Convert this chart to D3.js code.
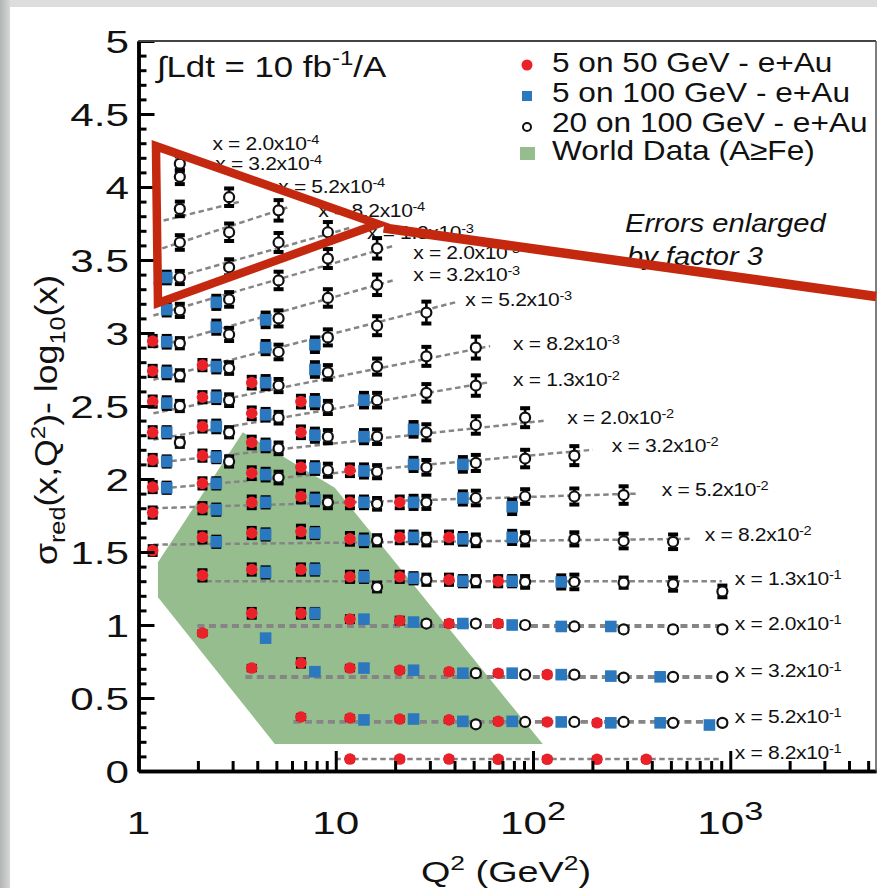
<!DOCTYPE html>
<html>
<head>
<meta charset="utf-8">
<script src="https://cdn.jsdelivr.net/npm/d3@7"></script>
<style>
  html, body { margin: 0; padding: 0; background: #fff; }
  svg { display: block; }
  text { font-family: "Liberation Sans", Arial, Helvetica, sans-serif; fill: #111; }
</style>
</head>
<body>
<svg id="chart" width="877" height="888"></svg>
<script>
// ---- x bins (one row each), labelled x = m x 10^e ----
const rowMant = ["2.0","3.2","5.2","8.2","1.3","2.0","3.2","5.2","8.2","1.3","2.0","3.2","5.2","8.2","1.3","2.0","3.2","5.2","8.2"];
const rowExp  = [-4,-4,-4,-4,-3,-3,-3,-3,-3,-2,-2,-2,-2,-2,-1,-1,-1,-1,-1];

// ---- Q^2 columns (GeV^2) of each data set ----
const redQ2  = [1.18, 2.11, 3.75, 6.66, 11.8, 21.1, 37.5, 66.6, 118, 211, 375, 666];
const blueQ2 = [1.39, 2.48, 4.41, 7.84, 13.9, 24.8, 44.1, 78.4, 139, 248, 441, 784];
const openQ2 = [1.62, 2.88, 5.13, 9.12, 16.2, 28.8, 51.3, 91.2, 162, 288, 513, 912];

// ---- sigma_red - log10(x): [value, error] per Q^2 column, null = no point ----
const _ = null;
const redRows = [
  [], [], [], [], [], [],
  [[2.945,.035]],
  [[2.74,.035],[2.78,.035]],
  [[2.53,.035],[2.56,.035],[2.66,.04]],
  [[2.32,.035],[2.36,.035],[2.45,.04],[2.53,.04]],
  [[2.13,.035],[2.16,.035],[2.25,.04],[2.32,.04]],
  [[1.945,.035],[1.97,.035],[2.04,.04],[2.08,.04],[2.06,.04]],
  [[1.77,.035],[1.80,.035],[1.84,.04],[1.88,.04],[1.84,.04],[1.84,.04]],
  [[1.51,.03],[1.60,.035],[1.63,.035],[1.64,.04],[1.59,.04],[1.60,.04],[1.60,.04]],
  [_,[1.34,.035],[1.38,.035],[1.38,.035],[1.33,.035],[1.33,.035],[1.31,.035],[1.30,.035]],
  [_,[0.945,.012],[1.08,.03],[1.08,.03],[1.04,.02],[1.03,.02],[1.01,.015],[1.01,.015]],
  [_,_,[0.705,.015],[0.74,.025],[0.705,.015],[0.69,.012],[0.68,.012],[0.67,.012],[0.66,.012]],
  [_,_,_,[0.37,.012],[0.363,.012],[0.356,.012],[0.35,.012],[0.34,.012],[0.336,.012],[0.33,.012]],
  [_,_,_,_,[0.082,.01],[0.082,.01],[0.082,.01],[0.08,.01],[0.08,.01],[0.08,.01],[0.08,.01]]
];
const blueRows = [
  [], [], [], [],
  [[3.38,.04]],
  [[3.16,.04],[3.21,.045]],
  [[2.94,.04],[3.04,.045],[3.09,.05]],
  [[2.73,.04],[2.77,.04],[2.90,.045],[2.92,.05]],
  [[2.52,.04],[2.56,.04],[2.66,.045],[2.75,.05]],
  [[2.32,.035],[2.36,.04],[2.44,.04],[2.53,.045],[2.54,.05]],
  [[2.12,.035],[2.15,.035],[2.23,.04],[2.30,.045],[2.29,.045],[2.34,.05]],
  [[1.94,.035],[1.97,.035],[2.03,.04],[2.075,.04],[2.055,.045],[2.10,.045],[2.10,.05]],
  [_,[1.79,.035],[1.84,.035],[1.86,.04],[1.84,.04],[1.84,.045],[1.87,.045],[1.81,.05]],
  [_,[1.57,.035],[1.62,.035],[1.63,.035],[1.58,.04],[1.60,.04],[1.59,.04],[1.60,.045]],
  [_,_,[1.36,.035],[1.38,.035],[1.33,.035],[1.32,.035],[1.30,.035],[1.30,.035],[1.295,.045]],
  [_,_,[0.91,.012],[1.08,.03],[1.04,.02],[1.02,.015],[1.01,.015],[1.00,.015],[0.99,.012],[0.99,.012]],
  [_,_,_,[0.68,.015],[0.705,.015],[0.69,.012],[0.67,.012],[0.67,.012],[0.66,.012],[0.65,.012],[0.645,.012]],
  [_,_,_,_,[0.35,.012],[0.356,.012],[0.34,.012],[0.34,.012],[0.336,.012],[0.33,.012],[0.33,.012],[0.315,.012]],
  []
];
const openRows = [
  [[4.16,.05]],
  [[4.07,.05]],
  [[3.85,.05],[3.93,.06]],
  [[3.62,.05],[3.69,.06],[3.84,.07]],
  [[3.38,.045],[3.45,.055],[3.62,.065],[3.69,.07]],
  [[3.155,.045],[3.23,.05],[3.36,.06],[3.51,.065],[3.58,.07]],
  [[2.93,.035],[2.99,.045],[3.10,.055],[3.24,.06],[3.33,.07]],
  [[2.71,.035],[2.76,.04],[2.87,.05],[2.97,.055],[3.05,.065],[3.14,.075]],
  [[2.50,.035],[2.54,.04],[2.64,.045],[2.73,.05],[2.77,.055],[2.84,.065],[2.90,.075]],
  [[2.25,.03],[2.32,.035],[2.42,.04],[2.49,.045],[2.54,.05],[2.59,.06],[2.64,.07]],
  [_,[2.12,.035],[2.21,.04],[2.29,.045],[2.29,.05],[2.32,.055],[2.37,.06],[2.42,.065]],
  [_,_,[2.01,.04],[2.06,.045],[2.05,.045],[2.08,.05],[2.11,.055],[2.14,.06],[2.16,.065]],
  [_,_,_,[1.84,.04],[1.83,.04],[1.84,.045],[1.87,.05],[1.88,.05],[1.88,.055],[1.89,.06]],
  [_,_,_,_,[1.58,.035],[1.585,.04],[1.58,.04],[1.59,.045],[1.59,.045],[1.575,.05],[1.57,.05]],
  [_,_,_,_,[1.26,.03],[1.31,.035],[1.30,.035],[1.295,.04],[1.295,.05],[1.29,.035],[1.28,.045],[1.23,.04]],
  [_,_,_,_,_,[1.01,.015],[1.01,.015],[1.00,.015],[0.99,.015],[0.97,.015],[0.97,.015],[0.97,.015]],
  [_,_,_,_,_,_,[0.67,.012],[0.66,.012],[0.66,.012],[0.64,.012],[0.645,.012],[0.645,.012]],
  [_,_,_,_,_,_,[0.32,.012],[0.336,.012],[0.336,.012],[0.336,.012],[0.33,.012],[0.33,.012]],
  []
];

// ---- guide line of each x bin: Q^2 range and value at both ends ----
const lineQ2a = [null,null,1.34,1.32,1.19,1.19,1.19,1.19,1.19,1.19,1.19,1.19,1.19,1.19,1.99,1.99,3.48,6.1,9.94];
const lineQ2b = [null,null,3.28,5.69,11.8,20.0,19.5,40.3,60.6,58.5,116,201,340,623,906,906,906,906,906];
const lineVa  = [null,null,3.77,3.58,3.34,3.12,2.90,2.68,2.45,2.27,2.11,1.93,1.80,1.55,1.30,0.993,0.644,0.336,0.082];
const lineVb  = [null,null,3.90,3.86,3.72,3.60,3.36,3.21,2.91,2.66,2.40,2.20,1.90,1.59,1.30,0.993,0.644,0.336,0.082];

// ---- where each x-bin label sits (Q^2, value) ----
const labelQ2 = [2.37,2.45,5.11,8.16,14.4,24.7,24.7,45.3,79.2,79.2,149,251,450,743,1054,1054,1054,1054,1054];
const labelV  = [4.30,4.16,4.00,3.84,3.69,3.55,3.40,3.23,2.93,2.68,2.42,2.23,1.93,1.62,1.32,1.01,0.685,0.37,0.13];

// ---- world data (A >= Fe) coverage outline ----
const worldQ2 = [3.38, 9.89, 112, 4.91, 1.255, 1.255];
const worldV  = [2.32, 1.94, 0.185, 0.185, 1.19, 1.43];

// ---- highlight triangle and pointer line ----
const triQ2 = [1.226, 1.255, 16.3];
const triV  = [4.28, 3.205, 3.747];
const ptrQ2 = [17.5, 5483];
const ptrV  = [3.719, 3.25];

// ---- axes ----
const yMajor = d3.range(0, 11).map(i => i * 0.5);
const yMinor = d3.range(0, 51).map(i => i / 10).filter((v, i) => i % 5 !== 0);
const xMajor = [10, 100, 1000];
const xLabels = [1, 10, 100, 1000];

const legendNames = ["5 on 50 GeV - e+Au", "5 on 100 GeV - e+Au", "20 on 100 GeV - e+Au", "World Data (A\u2265Fe)"];

// ====================================================================
const W = 877, H = 888;
const svg = d3.select("#chart");
const RED = "#ea2128", BLUE = "#2c78be", GREEN = "#95bd8d", DASH = "#858585";

const x = d3.scaleLog().domain([1, 5480]).range([138.5, 876]);
const y = d3.scaleLinear().domain([0, 5]).range([771, 41]);

// page backdrop: grey edges, white sheet
const defs = svg.append("defs");
const lg = defs.append("linearGradient").attr("id", "edge").attr("x1", 0).attr("x2", 1).attr("y1", 0).attr("y2", 0);
lg.append("stop").attr("offset", 0).attr("stop-color", "#b3b5b5");
lg.append("stop").attr("offset", 1).attr("stop-color", "#d6d7d6");
svg.append("rect").attr("width", W).attr("height", H).attr("fill", "#dcdddc");
svg.append("rect").attr("width", 10).attr("height", H).attr("fill", "url(#edge)");
svg.append("rect").attr("x", 10).attr("y", 7).attr("width", W - 10).attr("height", H - 7).attr("fill", "#fff");

// world data band
svg.append("path")
  .attr("d", d3.line()(worldQ2.map((q, i) => [x(q), y(worldV[i])])) + "Z")
  .attr("fill", GREEN);

// guide lines
const lineG = svg.append("g");
lineQ2a.forEach((qa, i) => {
  if (qa == null) return;
  const thick = i >= 15 && i <= 17;
  lineG.append("line")
    .attr("x1", x(qa)).attr("y1", y(lineVa[i]))
    .attr("x2", x(lineQ2b[i])).attr("y2", y(lineVb[i]))
    .attr("stroke", DASH)
    .attr("stroke-width", thick ? 3.8 : 2.5)
    .attr("stroke-dasharray", thick ? "7,4.5" : "5.5,3.5");
});

// bin labels
const labG = svg.append("g");
rowMant.forEach((m, i) => {
  const t = labG.append("text")
    .attr("transform", `translate(${x(labelQ2[i])},${y(labelV[i])}) scale(1.17,1)`)
    .attr("dy", "0.36em")
    .style("font-size", "18px")
    .style("letter-spacing", "-0.3px");
  t.append("tspan").text(`x = ${m}x10`);
  t.append("tspan").attr("dy", "-0.48em").style("font-size", "12.5px").text(String(rowExp[i]));
});

// flatten the three data sets
function flatten(rows, q2) {
  const out = [];
  rows.forEach((row, r) => row.forEach((p, k) => {
    if (p) out.push({ q: q2[k], v: p[0], e: p[1], r });
  }));
  return out;
}
const redPts = flatten(redRows, redQ2);
const bluePts = flatten(blueRows, blueQ2);
const openPts = flatten(openRows, openQ2);
const allPts = redPts.concat(bluePts, openPts);

// error bars
const errG = svg.append("g").attr("stroke", "#000");
errG.selectAll("line.bar").data(allPts).join("line").attr("class", "bar")
  .attr("x1", d => x(d.q)).attr("x2", d => x(d.q))
  .attr("y1", d => y(d.v - d.e)).attr("y2", d => y(d.v + d.e))
  .attr("stroke-width", 2.6);
["lo", "hi"].forEach(s => {
  errG.selectAll("line.cap" + s).data(allPts).join("line").attr("class", "cap" + s)
    .attr("x1", d => x(d.q) - 5).attr("x2", d => x(d.q) + 5)
    .attr("y1", d => y(s === "lo" ? d.v - d.e : d.v + d.e))
    .attr("y2", d => y(s === "lo" ? d.v - d.e : d.v + d.e))
    .attr("stroke-width", 4);
});

// markers
svg.append("g").selectAll("circle").data(redPts).join("circle")
  .attr("cx", d => x(d.q)).attr("cy", d => y(d.v)).attr("r", 5.8).attr("fill", RED);
svg.append("g").selectAll("rect").data(bluePts).join("rect")
  .attr("x", d => x(d.q) - 5.8).attr("y", d => y(d.v) - 5.8)
  .attr("width", 11.6).attr("height", 11.6).attr("fill", BLUE);
svg.append("g").selectAll("circle").data(openPts).join("circle")
  .attr("cx", d => x(d.q)).attr("cy", d => y(d.v)).attr("r", 5)
  .attr("fill", "#fff").attr("stroke", "#111").attr("stroke-width", 2.2);

// axes: ticks point into the plot
const axL = svg.append("g").attr("transform", `translate(${x.range()[0]},0)`);
axL.append("g").call(d3.axisRight(y).tickValues(yMinor).tickSize(8).tickSizeOuter(0).tickFormat(""));
axL.append("g").call(d3.axisRight(y).tickValues(yMajor).tickSize(16).tickSizeOuter(0).tickFormat(""));
const xMinor = [];
[1, 10, 100, 1000].forEach(d => d3.range(2, 10).forEach(m => { if (m * d < x.domain()[1]) xMinor.push(m * d); }));
const axB = svg.append("g").attr("transform", `translate(0,${y.range()[0]})`);
axB.append("g").call(d3.axisTop(x).tickValues(xMinor).tickSize(10).tickSizeOuter(0).tickFormat(""));
axB.append("g").call(d3.axisTop(x).tickValues(xMajor).tickSize(20).tickSizeOuter(0).tickFormat(""));
svg.selectAll(".domain").attr("stroke", "#000").attr("stroke-width", 3.5);
svg.selectAll(".tick line").attr("stroke", "#000").attr("stroke-width", 3);

// frame on top and right
svg.append("line").attr("x1", x.range()[0]).attr("x2", x.range()[1]).attr("y1", y(5)).attr("y2", y(5))
  .attr("stroke", "#444").attr("stroke-width", 2);
svg.append("line").attr("x1", x.range()[1]).attr("x2", x.range()[1]).attr("y1", y(5)).attr("y2", y(0))
  .attr("stroke", "#555").attr("stroke-width", 1.5);

// tick labels
const tl = svg.append("g").style("font-size", "32px");
yMajor.forEach(v => {
  tl.append("text")
    .attr("transform", `translate(129,${y(v)}) scale(1.32,1)`)
    .attr("dy", "0.36em").attr("text-anchor", "end")
    .text(d3.format("~g")(v));
});
xLabels.forEach(v => {
  const e = Math.round(Math.log10(v));
  const t = tl.append("text")
    .attr("transform", `translate(${x(v)},834) scale(1.32,1)`)
    .attr("text-anchor", "middle");
  if (e === 0) t.text("1");
  else if (e === 1) t.text("10");
  else {
    t.append("tspan").text("10");
    t.append("tspan").attr("dy", "-14").style("font-size", "26px").text(String(e));
  }
});

// axis titles
const yt = svg.append("text")
  .attr("transform", "translate(57,420) rotate(-90) scale(1.15,1)")
  .attr("text-anchor", "middle").style("font-size", "31px");
yt.append("tspan").text("\u03c3");
yt.append("tspan").attr("dy", 8).style("font-size", "22px").text("red");
yt.append("tspan").attr("dy", -8).text("(x,Q");
yt.append("tspan").attr("dy", -12).style("font-size", "21px").text("2");
yt.append("tspan").attr("dy", 12).text(")- log");
yt.append("tspan").attr("dy", 8).style("font-size", "22px").text("10");
yt.append("tspan").attr("dy", -8).text("(x)");

const xt = svg.append("text")
  .attr("transform", "translate(506,882) scale(1.26,1)")
  .attr("text-anchor", "middle").style("font-size", "30px");
xt.append("tspan").text("Q");
xt.append("tspan").attr("dy", -12).style("font-size", "21px").text("2");
xt.append("tspan").attr("dy", 12).text(" (GeV");
xt.append("tspan").attr("dy", -12).style("font-size", "21px").text("2");
xt.append("tspan").attr("dy", 12).text(")");

// luminosity note
const lum = svg.append("text")
  .attr("transform", "translate(157,77) scale(1.2,1)").style("font-size", "29px");
lum.append("tspan").text("\u222bLdt = 10 fb");
lum.append("tspan").attr("dy", -12).style("font-size", "20px").text("-1");
lum.append("tspan").attr("dy", 12).text("/A");

// error note
[["Errors enlarged", 625, 232], ["by factor 3", 627, 265]].forEach(([s, tx, ty]) => {
  svg.append("text").attr("transform", `translate(${tx},${ty}) scale(1.12,1)`)
    .style("font-size", "26px").style("font-style", "italic").text(s);
});

// legend
const lgG = svg.append("g");
const legY = [72, 102, 132, 160];
lgG.append("circle").attr("cx", 527).attr("cy", legY[0] - 7).attr("r", 5.5).attr("fill", RED);
lgG.append("rect").attr("x", 522).attr("y", legY[1] - 11).attr("width", 10).attr("height", 10).attr("fill", BLUE);
lgG.append("circle").attr("cx", 527).attr("cy", legY[2] - 5).attr("r", 4).attr("fill", "#fff")
  .attr("stroke", "#111").attr("stroke-width", 2);
lgG.append("rect").attr("x", 520).attr("y", legY[3] - 13).attr("width", 15).attr("height", 13).attr("fill", GREEN);
legendNames.forEach((n, i) => {
  lgG.append("text").attr("transform", `translate(552,${legY[i]}) scale(1.13,1)`)
    .style("font-size", "28px").text(n);
});

// highlight triangle and pointer
const hl = svg.append("g").attr("fill", "none").attr("stroke", "#c4290f").attr("stroke-linejoin", "miter");
hl.append("path")
  .attr("d", d3.line()(triQ2.map((q, i) => [x(q), y(triV[i])])) + "Z")
  .attr("stroke-width", 8.5);
hl.append("path")
  .attr("d", d3.line()(ptrQ2.map((q, i) => [x(q), y(ptrV[i])])))
  .attr("stroke-width", 9.5);
</script>
</body>
</html>
